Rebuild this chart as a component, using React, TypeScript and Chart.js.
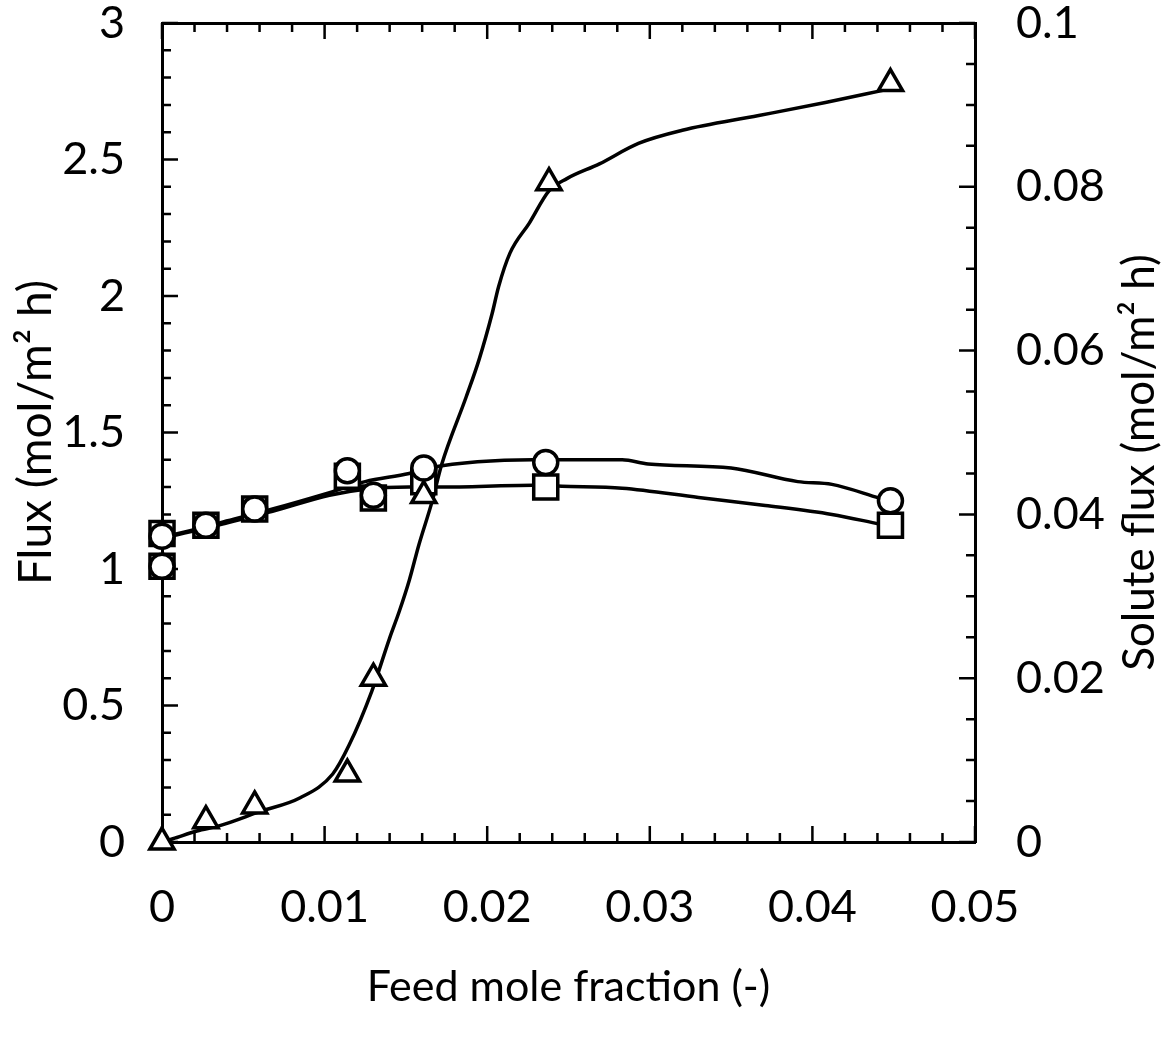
import React, { useEffect, useRef } from "react";
import { Chart, registerables } from "chart.js";

Chart.register(...registerables);

// Measured points
const feedX = [0, 0, 0.0027, 0.0057, 0.0114, 0.013, 0.0161, 0.0236, 0.0448];
const squareFlux = [1.13, 1.01, 1.16, 1.22, 1.34, 1.26, 1.32, 1.30, 1.16];
const circleFlux = [1.12, 1.01, 1.16, 1.22, 1.36, 1.27, 1.37, 1.39, 1.25];

const triX = [0, 0.0027, 0.0057, 0.0114, 0.013, 0.0161, 0.0238, 0.0448];
const soluteFlux = [0, 0.0026, 0.0044, 0.0083, 0.0200, 0.0423, 0.0805, 0.0926];

// Drawn fit curves
const circleFitX = [0, 0.001, 0.0036, 0.0068, 0.0103, 0.0125, 0.0152, 0.0164, 0.0228, 0.0246, 0.0283, 0.0299, 0.035, 0.0391, 0.0412, 0.0441];
const circleFitY = [1.12, 1.13, 1.17, 1.22, 1.28, 1.32, 1.35, 1.37, 1.40, 1.40, 1.40, 1.385, 1.37, 1.32, 1.31, 1.26];
const squareFitX = [0, 0.001, 0.0036, 0.0068, 0.0103, 0.0125, 0.0152, 0.0171, 0.0228, 0.0246, 0.0283, 0.033, 0.0371, 0.0412, 0.0441];
const squareFitY = [1.115, 1.126, 1.163, 1.211, 1.27, 1.292, 1.30, 1.30, 1.307, 1.303, 1.296, 1.262, 1.233, 1.20, 1.165];
const triFitX = [0, 0.00067, 0.00215, 0.00356, 0.006, 0.0085, 0.0105, 0.0115, 0.0129, 0.014, 0.0146, 0.0152, 0.0158, 0.0166, 0.0172, 0.0187, 0.0195, 0.0203, 0.0207, 0.0214, 0.0226, 0.0238, 0.0249, 0.0269, 0.0293, 0.032, 0.0367, 0.0408, 0.0444];
const triFitY = [0, 0.0004, 0.00135, 0.002, 0.0037, 0.0054, 0.0083, 0.0118, 0.0184, 0.0249, 0.0282, 0.0319, 0.0363, 0.0415, 0.0461, 0.0543, 0.0589, 0.0645, 0.0678, 0.0719, 0.0756, 0.0795, 0.081, 0.0828, 0.0853, 0.0869, 0.0887, 0.0903, 0.0918];

const xLabels = ["0", "0.01", "0.02", "0.03", "0.04", "0.05"];
const yLabels = ["0", "0.5", "1", "1.5", "2", "2.5", "3"];
const y2Labels = ["0", "0.02", "0.04", "0.06", "0.08", "0.1"];

const FONT = "Lato, 'Open Sans', sans-serif";

const pts = (xs: number[], ys: number[]) => xs.map((x, i) => ({ x, y: ys[i] }));
const isMult = (v: number, step: number) => Math.abs(v / step - Math.round(v / step)) < 1e-6;

const tickPlugin = {
  id: "innerTicks",
  beforeDatasetsDraw(chart: any) {
    const { ctx, chartArea: a, scales } = chart;
    ctx.save();
    ctx.strokeStyle = "#000";
    ctx.lineWidth = 2.5;
    ctx.beginPath();
    scales.x.ticks.forEach((t: any) => {
      const px = scales.x.getPixelForValue(t.value);
      const len = isMult(t.value, 0.01) ? 16 : 9;
      ctx.moveTo(px, a.bottom);
      ctx.lineTo(px, a.bottom - len);
      ctx.moveTo(px, a.top);
      ctx.lineTo(px, a.top + len);
    });
    scales.y.ticks.forEach((t: any) => {
      const py = scales.y.getPixelForValue(t.value);
      const len = isMult(t.value, 0.5) ? 16 : 9;
      ctx.moveTo(a.left, py);
      ctx.lineTo(a.left + len, py);
    });
    scales.y2.ticks.forEach((t: any) => {
      const py = scales.y2.getPixelForValue(t.value);
      const len = isMult(t.value, 0.02) ? 16 : 9;
      ctx.moveTo(a.right, py);
      ctx.lineTo(a.right - len, py);
    });
    ctx.stroke();
    ctx.restore();
  },
  afterDraw(chart: any) {
    const { ctx, chartArea: a } = chart;
    ctx.save();
    ctx.fillStyle = "#000";
    ctx.font = `44px ${FONT}`;
    ctx.textAlign = "center";
    ctx.textBaseline = "middle";
    ctx.translate(1140, (a.top + a.bottom) / 2 + 30);
    ctx.rotate(-Math.PI / 2);
    ctx.fillText("Solute flux (mol/m² h)", 0, 0);
    ctx.restore();
  },
};

export default function App() {
  const ref = useRef<HTMLCanvasElement>(null);
  useEffect(() => {
    if (!ref.current) return;
    const marker = (style: string, r: number) => ({
      showLine: false,
      clip: false,
      pointStyle: style,
      pointRadius: r,
      pointBorderWidth: 3.5,
      pointBackgroundColor: "#fff",
      pointBorderColor: "#000",
      borderColor: "#000",
      backgroundColor: "#fff",
    });
    const line = {
      showLine: true,
      pointRadius: 0,
      borderColor: "#000",
      borderWidth: 3.5,
      tension: 0.3,
      cubicInterpolationMode: "monotone" as const,
      fill: false,
    };
    const fixY = (w: number) => (s: any) => {
      s.width = w;
      s.paddingTop = 0;
      s.paddingBottom = 0;
    };
    const chart = new Chart(ref.current, {
      type: "scatter",
      data: {
        datasets: [
          { label: "tri", data: pts(triX, soluteFlux), yAxisID: "y2", ...marker("triangle", 14) },
          { label: "circle", data: pts(feedX, circleFlux), yAxisID: "y", ...marker("circle", 12) },
          { label: "square", data: pts(feedX, squareFlux), yAxisID: "y", ...marker("rect", 17) },
          { label: "triFit", data: pts(triFitX, triFitY), yAxisID: "y2", ...line },
          { label: "circleFit", data: pts(circleFitX, circleFitY), yAxisID: "y", ...line },
          { label: "squareFit", data: pts(squareFitX, squareFitY), yAxisID: "y", ...line },
        ],
      },
      options: {
        animation: false,
        responsive: true,
        maintainAspectRatio: false,
        layout: { padding: 0 },
        plugins: { legend: { display: false }, tooltip: { enabled: false } },
        scales: {
          x: {
            type: "linear",
            position: "bottom",
            min: 0,
            max: 0.05,
            grid: { display: false },
            border: { display: true, color: "#000", width: 3 },
            ticks: {
              stepSize: 0.002,
              autoSkip: false,
              maxRotation: 0,
              padding: 35,
              color: "#000",
              font: { family: FONT, size: 45, lineHeight: 1 },
              callback: (v: any) => (isMult(Number(v), 0.01) ? xLabels[Math.round(Number(v) / 0.01)] : ""),
            },
            title: {
              display: true,
              text: "Feed mole fraction (-)",
              color: "#000",
              font: { family: FONT, size: 43, lineHeight: 1 },
              padding: { top: 0, bottom: 29 },
            },
            afterFit: (s: any) => { s.height = 196; s.paddingLeft = 0; s.paddingRight = 0; },
          },
          x2: {
            type: "linear",
            position: "top",
            min: 0,
            max: 0.05,
            grid: { display: false },
            border: { display: true, color: "#000", width: 3 },
            ticks: { display: false },
            afterFit: (s: any) => { s.height = 23; s.paddingLeft = 0; s.paddingRight = 0; },
          },
          y: {
            type: "linear",
            position: "left",
            min: 0,
            max: 3,
            grid: { display: false },
            border: { display: true, color: "#000", width: 3 },
            ticks: {
              stepSize: 0.1,
              autoSkip: false,
              padding: 29,
              color: "#000",
              font: { family: FONT, size: 45, lineHeight: 1 },
              callback: (v: any) => (isMult(Number(v), 0.5) ? yLabels[Math.round(Number(v) / 0.5)] : ""),
            },
            title: {
              display: true,
              text: "Flux (mol/m² h)",
              color: "#000",
              font: { family: FONT, size: 46, lineHeight: 1 },
              padding: { top: 13, bottom: 0 },
            },
            afterFit: fixY(162),
          },
          y2: {
            type: "linear",
            position: "right",
            min: 0,
            max: 0.1,
            grid: { display: false },
            border: { display: true, color: "#000", width: 3 },
            ticks: {
              stepSize: 0.005,
              autoSkip: false,
              padding: 33,
              color: "#000",
              font: { family: FONT, size: 45, lineHeight: 1 },
              callback: (v: any) => (isMult(Number(v), 0.02) ? y2Labels[Math.round(Number(v) / 0.02)] : ""),
            },
            afterFit: fixY(193),
          },
        },
      },
      plugins: [tickPlugin],
    });
    return () => chart.destroy();
  }, []);
  return (
    <div style={{ position: "fixed", left: 0, top: 0, width: 1168, height: 1038, background: "#fff" }}>
      <canvas ref={ref} />
    </div>
  );
}
